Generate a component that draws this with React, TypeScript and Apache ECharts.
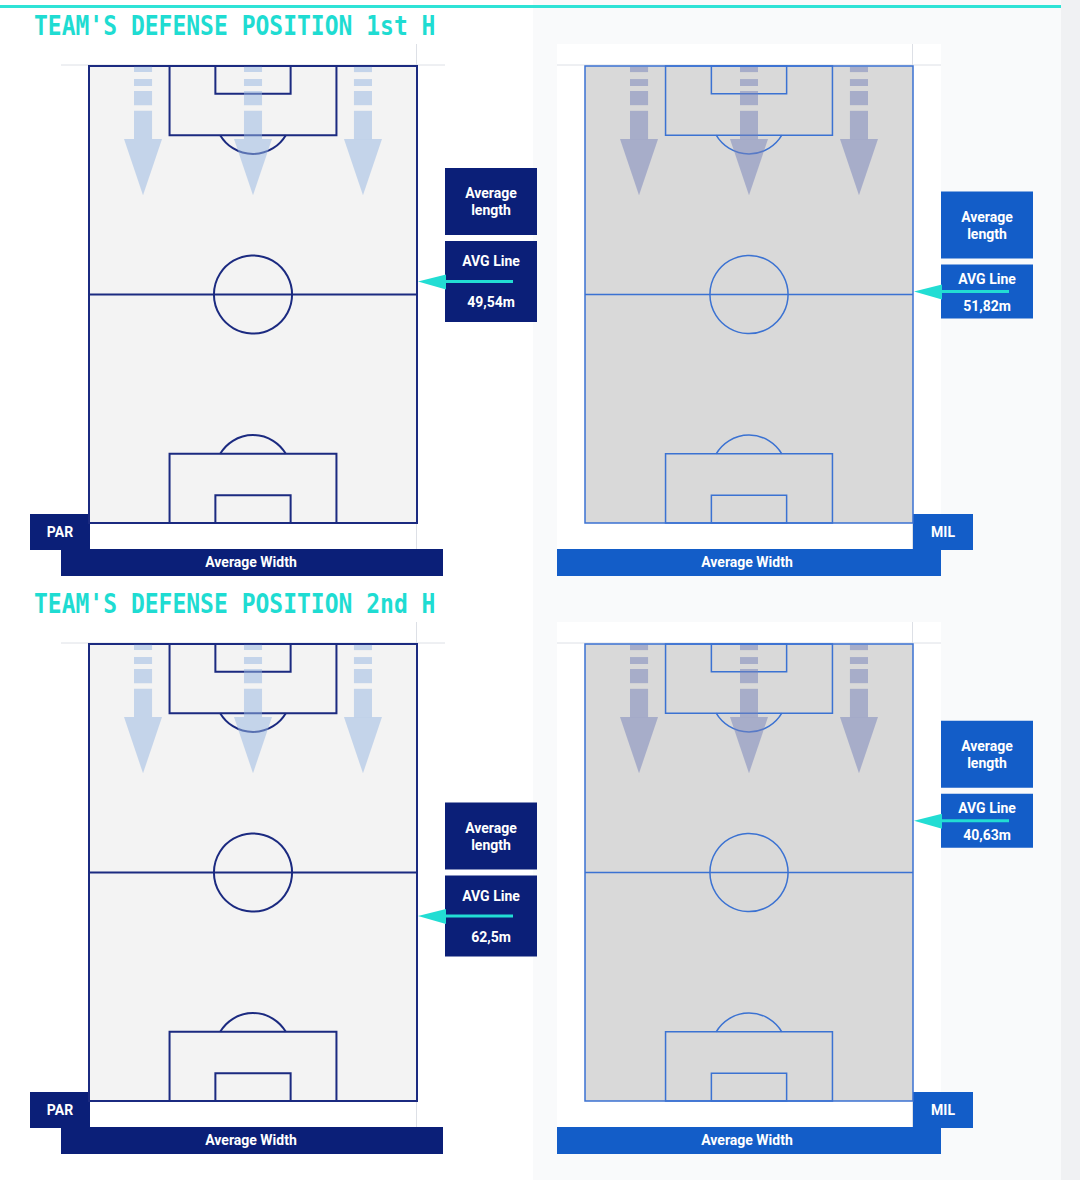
import React, { useEffect, useRef } from "react";
import * as echarts from "echarts";

// ---------- data ----------
const teams = ["PAR", "MIL"];
const halves = ["1st H", "2nd H"];
const titleLabels = ["TEAM'S DEFENSE POSITION 1st H", "TEAM'S DEFENSE POSITION 2nd H"];
const parAvgLine = [49.54, 62.5];
const milAvgLine = [51.82, 40.63];
const boxTitleLines = ["Average", "length"];
const avgLineLabel = "AVG Line";
const widthLabel = "Average Width";

// pitch geometry (metres)
const PITCH_W = 68;
const PITCH_L = 105;
const PEN_HALF_W = 17.3;
const PEN_DEPTH = 15.9;
const GOAL_HALF_W = 7.8;
const GOAL_DEPTH = 6.4;
const SPOT_DIST = 11.45;
const ARC_R = 7.9;
const CIRCLE_R = 8.1;
const arrowLanes = [11.2, 34, 56.8];
// arrow pieces along the length (metres from the top goal line)
const arrowDashes = [
  [0.2, 1.4],
  [3.0, 4.6],
  [5.75, 9.0],
  [10.3, 16.8],
];
const ARROW_HEAD = [16.8, 29.7];
const SHAFT_HALF = 1.87;
const HEAD_HALF = 3.94;

// ---------- layout / styles ----------
const PITCH_LEFT = [89, 585];
const ROW_TOP = [66, 644];
const PITCH_PX_W = 328;
const PITCH_PX_H = 457;

const themes: Record<string, any> = {
  PAR: {
    line: "#1b2a80",
    lineWidth: 2,
    fill: "#f3f3f3",
    arrow: "rgba(150,182,225,0.5)",
    box: "#0b1f78",
    box2H: 81,
    avgDy: 20,
    valDy: 61,
  },
  MIL: {
    line: "#3b72d2",
    lineWidth: 1.5,
    fill: "#d9d9d9",
    arrow: "rgba(118,130,186,0.5)",
    box: "#135dc8",
    box2H: 54,
    avgDy: 14,
    valDy: 41,
  },
};

const CYAN = "#22ddd3";
const BOX_FONT = 'bold 14px Roboto, "Noto Sans", sans-serif';

function txt(x: number, y: number, text: string, font: string, fill: string) {
  return {
    type: "text",
    x,
    y,
    style: {
      text,
      font,
      fill,
      align: "center",
      verticalAlign: "middle",
      textAlign: "center",
      textVerticalAlign: "middle",
    },
  };
}

function makePitchRender(theme: any) {
  return (params: any, api: any) => {
    const [x0, y0] = api.coord([0, 0]);
    const [x1, y1] = api.coord([PITCH_W, PITCH_L]);
    const sx = (x1 - x0) / PITCH_W;
    const sy = (y1 - y0) / PITCH_L;
    const X = (m: number) => x0 + m * sx;
    const Y = (m: number) => y0 + m * sy;
    const ls = { stroke: theme.line, lineWidth: theme.lineWidth, fill: "none" };
    const mid = PITCH_W / 2;
    const children: any[] = [];
    children.push({
      type: "rect",
      shape: { x: x0, y: y0, width: x1 - x0, height: y1 - y0 },
      style: { fill: theme.fill, stroke: theme.line, lineWidth: theme.lineWidth },
    });
    // halfway line + centre circle
    children.push({ type: "line", shape: { x1: x0, y1: Y(PITCH_L / 2), x2: x1, y2: Y(PITCH_L / 2) }, style: ls });
    children.push({ type: "circle", shape: { cx: X(mid), cy: Y(PITCH_L / 2), r: CIRCLE_R * sx }, style: ls });
    // boxes top & bottom
    [0, 1].forEach((end) => {
      const penY = end === 0 ? y0 : Y(PITCH_L - PEN_DEPTH);
      const goalY = end === 0 ? y0 : Y(PITCH_L - GOAL_DEPTH);
      children.push({
        type: "rect",
        shape: { x: X(mid - PEN_HALF_W), y: penY, width: 2 * PEN_HALF_W * sx, height: PEN_DEPTH * sy },
        style: ls,
      });
      children.push({
        type: "rect",
        shape: { x: X(mid - GOAL_HALF_W), y: goalY, width: 2 * GOAL_HALF_W * sx, height: GOAL_DEPTH * sy },
        style: ls,
      });
      const r = ARC_R * sx;
      const th = Math.asin(Math.min(1, ((PEN_DEPTH - SPOT_DIST) * sy) / r));
      const cy = end === 0 ? Y(SPOT_DIST) : Y(PITCH_L - SPOT_DIST);
      children.push({
        type: "arc",
        shape: {
          cx: X(mid),
          cy,
          r,
          startAngle: end === 0 ? th : Math.PI + th,
          endAngle: end === 0 ? Math.PI - th : 2 * Math.PI - th,
          clockwise: true,
        },
        style: ls,
      });
    });
    // direction arrows
    arrowLanes.forEach((lane) => {
      arrowDashes.forEach(([a, b]) => {
        children.push({
          type: "rect",
          shape: { x: X(lane - SHAFT_HALF), y: Y(a), width: 2 * SHAFT_HALF * sx, height: (b - a) * sy },
          style: { fill: theme.arrow },
        });
      });
      children.push({
        type: "polygon",
        shape: {
          points: [
            [X(lane - HEAD_HALF), Y(ARROW_HEAD[0])],
            [X(lane + HEAD_HALF), Y(ARROW_HEAD[0])],
            [X(lane), Y(ARROW_HEAD[1])],
          ],
        },
        style: { fill: theme.arrow },
      });
    });
    return { type: "group", children };
  };
}

function makeAvgRender(theme: any, label: string) {
  return (params: any, api: any) => {
    const [px, py] = api.coord([api.value(0), api.value(1)]);
    const bx = px + 28;
    const bw = 92;
    const b2top = py - theme.box2H / 2;
    const b1h = 67;
    const b1top = b2top - 6 - b1h;
    const cx = bx + bw / 2;
    return {
      type: "group",
      children: [
        { type: "rect", shape: { x: bx, y: b1top, width: bw, height: b1h }, style: { fill: theme.box } },
        { type: "rect", shape: { x: bx, y: b2top, width: bw, height: theme.box2H }, style: { fill: theme.box } },
        txt(cx, b1top + 25, boxTitleLines[0], BOX_FONT, "#ffffff"),
        txt(cx, b1top + 42, boxTitleLines[1], BOX_FONT, "#ffffff"),
        txt(cx, b2top + theme.avgDy, avgLineLabel, BOX_FONT, "#ffffff"),
        txt(cx, b2top + theme.valDy, label, BOX_FONT, "#ffffff"),
        {
          type: "line",
          shape: { x1: px + 26, y1: py, x2: bx + 68, y2: py },
          style: { stroke: CYAN, lineWidth: 3 },
        },
        {
          type: "polygon",
          shape: { points: [[px + 1, py], [px + 29, py - 7], [px + 29, py + 8]] },
          style: { fill: CYAN },
        },
      ],
    };
  };
}

function fmt(v: number) {
  return v.toString().replace(".", ",") + "m";
}

function buildOption() {
  const grid: any[] = [];
  const xAxis: any[] = [];
  const yAxis: any[] = [];
  const series: any[] = [];
  const graphic: any[] = [];

  // page backgrounds
  graphic.push({ type: "rect", shape: { x: 0, y: 0, width: 1080, height: 1180 }, style: { fill: "#ffffff" }, z: -10 });
  graphic.push({ type: "rect", shape: { x: 533, y: 0, width: 528, height: 1180 }, style: { fill: "#f9fafb" }, z: -9 });
  graphic.push({ type: "rect", shape: { x: 1061, y: 0, width: 19, height: 1180 }, style: { fill: "#f0f1f3" }, z: -9 });
  graphic.push({ type: "rect", shape: { x: 0, y: 5, width: 1061, height: 3 }, style: { fill: "#2ee3d6" }, z: -8 });

  halves.forEach((half, h) => {
    const top = ROW_TOP[h];
    graphic.push({
      type: "text",
      x: 34,
      y: top - 40,
      scaleY: 1.14,
      style: {
        text: titleLabels[h],
        font: 'bold 23px "DejaVu Sans Mono", monospace',
        fill: "#1fdcd2",
        align: "left",
        verticalAlign: "middle",
        textAlign: "left",
        textVerticalAlign: "middle",
      },
      z: -5,
    });
    teams.forEach((team, t) => {
      const theme = themes[team];
      const left = PITCH_LEFT[t];
      const i = h * 2 + t;
      // panel
      const panelX = left - 28;
      graphic.push({ type: "rect", shape: { x: panelX, y: top - 22, width: 384, height: 506 }, style: { fill: "#ffffff" }, z: -7 });
      graphic.push({ type: "line", shape: { x1: panelX, y1: top - 1, x2: panelX + 384, y2: top - 1 }, style: { stroke: "#dde0e6", lineWidth: 1 }, z: -6 });
      graphic.push({ type: "line", shape: { x1: left + 327.5, y1: top - 22, x2: left + 327.5, y2: top + 484 }, style: { stroke: "#dde0e6", lineWidth: 1 }, z: -6 });
      // width bar
      graphic.push({ type: "rect", shape: { x: panelX, y: top + 483, width: t === 0 ? 382 : 384, height: 27 }, style: { fill: theme.box }, z: -5 });
      graphic.push({ ...txt(panelX + 190, top + 496, widthLabel, BOX_FONT, "#ffffff"), z: -4 });
      // team tag
      const tagX = t === 0 ? left - 59 : left + PITCH_PX_W;
      graphic.push({ type: "rect", shape: { x: tagX, y: top + 448, width: 60, height: 36 }, style: { fill: theme.box }, z: -5 });
      graphic.push({ ...txt(tagX + 30, top + 466, team, BOX_FONT, "#ffffff"), z: -4 });

      grid.push({ left, top, width: PITCH_PX_W, height: PITCH_PX_H, containLabel: false });
      xAxis.push({ type: "value", gridIndex: i, min: 0, max: PITCH_W, show: false });
      yAxis.push({ type: "value", gridIndex: i, min: 0, max: PITCH_L, inverse: true, show: false });
      const avg = (team === "PAR" ? parAvgLine : milAvgLine)[h];
      series.push({
        type: "custom",
        name: `${team} pitch ${half}`,
        xAxisIndex: i,
        yAxisIndex: i,
        data: [[0, 0]],
        renderItem: makePitchRender(theme),
        silent: true,
        clip: false,
        z: 2,
      });
      series.push({
        type: "custom",
        name: `${team} avg line ${half}`,
        xAxisIndex: i,
        yAxisIndex: i,
        data: [[PITCH_W, avg]],
        renderItem: makeAvgRender(theme, fmt(avg)),
        silent: true,
        clip: false,
        z: 3,
      });
    });
  });

  return { animation: false, grid, xAxis, yAxis, series, graphic };
}

export default function App() {
  const ref = useRef<HTMLDivElement>(null);
  useEffect(() => {
    if (!ref.current) return;
    const chart = echarts.init(ref.current, null, { renderer: "svg" });
    chart.setOption(buildOption() as any);
    return () => chart.dispose();
  }, []);
  return (
    <div
      ref={ref}
      style={{ position: "absolute", left: 0, top: 0, width: 1080, height: 1180 }}
    />
  );
}
